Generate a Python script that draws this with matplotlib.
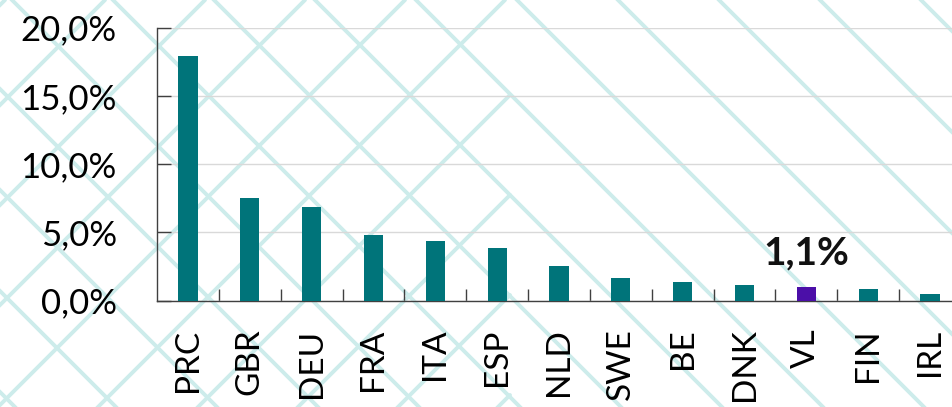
import matplotlib
matplotlib.use("Agg")
import matplotlib.pyplot as plt
from matplotlib.ticker import FuncFormatter

# Datos
paises = ["PRC", "GBR", "DEU", "FRA", "ITA", "ESP", "NLD", "SWE", "BE", "DNK", "VL", "FIN", "IRL"]
valores = [17.9, 7.55, 6.85, 4.8, 4.35, 3.85, 2.55, 1.65, 1.4, 1.15, 1.0, 0.85, 0.5]
destacado = "VL"
etiqueta_destacado = "1,1%"

teal = "#00747a"
morado = "#4b0fa8"
cian = "#cdeceb"

plt.rcParams["font.family"] = ["Lato", "DejaVu Sans"]

W, H = 953, 407
fig = plt.figure(figsize=(W / 100, H / 100), dpi=100)

# Fondo decorativo con lineas diagonales
bg = fig.add_axes([0, 0, 1, 1], zorder=0)
bg.set_xlim(0, W)
bg.set_ylim(H, 0)
bg.axis("off")
for c in range(315 - 101 * 8, W, 101):
    bg.plot([c - 20, c + H + 20], [-20, H + 20], color=cian, lw=2.8, solid_capstyle="round")
limite = 510
for d in range(705 - 100 * 8, limite + H + 1, 100):
    x0, y0 = d, 0
    if x0 > limite:
        x0, y0 = limite, d - limite
    bg.plot([x0, d - H - 20], [y0, H + 20], color=cian, lw=2.8, solid_capstyle="round")

# Grafico de barras
ax = fig.add_axes([157 / W, (H - 300.7) / H, (961 - 157) / W, (300.7 - 27.7) / H], zorder=1)
ax.patch.set_alpha(0)
colores = [morado if p == destacado else teal for p in paises]
x = list(range(len(paises)))
ax.bar(x, valores, width=0.31, color=colores, zorder=3)

ax.set_xlim(-0.5, len(paises) - 0.5)
ax.set_ylim(0, 20)
ax.set_yticks([0, 5, 10, 15, 20])
ax.yaxis.set_major_formatter(FuncFormatter(lambda v, _: f"{v:.1f}%".replace(".", ",")))
ax.yaxis.grid(True, color="#d9d9d9", lw=1, zorder=1)
ax.set_axisbelow(True)

ax.set_xticks(x)
ax.set_xticklabels(paises, rotation=90, fontsize=24)
ax.set_xticks([i + 0.5 for i in x[:-1]], minor=True)
ax.tick_params(axis="x", which="major", length=0, pad=20)
ax.tick_params(axis="x", which="minor", direction="in", length=9, width=1, color="#404040")
ax.tick_params(axis="y", direction="in", length=10, width=1, color="#404040", labelsize=25, pad=29)

for s in ["top", "right"]:
    ax.spines[s].set_visible(False)
for s in ["left", "bottom"]:
    ax.spines[s].set_color("#404040")
    ax.spines[s].set_linewidth(1)

i = paises.index(destacado)
ax.annotate(etiqueta_destacado, (i, valores[i]), xytext=(0, 12), textcoords="offset points",
            ha="center", va="bottom", fontsize=28, fontweight="bold", color="#111111")

fig.savefig("out.png", dpi=100)
